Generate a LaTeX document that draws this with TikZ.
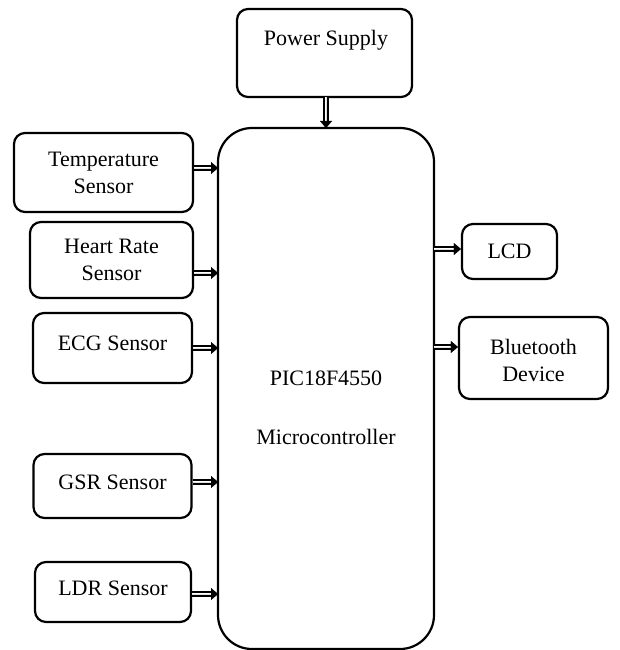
\documentclass[tikz,border=0pt]{standalone}
\usepackage{fontspec}
\setmainfont{Liberation Serif}
\usetikzlibrary{arrows.meta}
\begin{document}
\begin{tikzpicture}[x=1pt,y=-1pt,
  blk/.style={draw,line width=2.2pt,rounded corners=11pt},
  lbl/.style={font=\fontsize{22}{27}\selectfont,align=center,inner sep=0pt},
  dar/.style={double,double distance=2.8pt,line width=1.3pt,shorten >=6pt},
  dhead/.style={line width=0.01pt,-{Triangle[length=7pt,width=12pt]}}]
\useasboundingbox (0,0) rectangle (619,650);
\node[blk,minimum width=175pt,minimum height=88pt] (ps) at (324.5,53) {};
\node[lbl] at (326,40) {Power Supply};
\node[blk,rounded corners=34pt,minimum width=216pt,minimum height=521pt] (mc) at (326,388.5) {};
\node[lbl] at (326,378) {PIC18F4550};
\node[lbl] at (326,437) {Microcontroller};
\node[blk,minimum width=179pt,minimum height=79pt] (ts) at (103.5,172.5) {};
\node[lbl] at (ts) {Temperature\\Sensor};
\node[blk,minimum width=163pt,minimum height=76pt] (hr) at (111.5,260) {};
\node[lbl] at (hr) {Heart Rate\\Sensor};
\node[blk,minimum width=159pt,minimum height=70pt] (ecg) at (112.5,348) {};
\node[lbl] at (112.5,343) {ECG Sensor};
\node[blk,minimum width=158pt,minimum height=64pt] (gsr) at (112.5,486) {};
\node[lbl] at (112.5,482) {GSR Sensor};
\node[blk,minimum width=156pt,minimum height=60pt] (ldr) at (113,592) {};
\node[lbl] at (113,588) {LDR Sensor};
\node[blk,minimum width=95pt,minimum height=55pt] (lcd) at (509.5,251.5) {};
\node[lbl] at (lcd) {LCD};
\node[blk,minimum width=149pt,minimum height=82pt] (bt) at (533.5,358) {};
\node[lbl] at (533.5,360) {Bluetooth\\Device};
\coordinate (pst) at (326,97);
\coordinate (mct) at (326,128);
\draw[dar] (pst) -- (mct); \draw[dhead] (pst) -- (mct);
\coordinate (t1) at (218,168); \draw[dar] (ts.east |- t1) -- (t1); \draw[dhead] (ts.east |- t1) -- (t1);
\coordinate (t2) at (218,273); \draw[dar] (hr.east |- t2) -- (t2); \draw[dhead] (hr.east |- t2) -- (t2);
\coordinate (t3) at (218,348); \draw[dar] (ecg.east |- t3) -- (t3); \draw[dhead] (ecg.east |- t3) -- (t3);
\coordinate (t4) at (218,482); \draw[dar] (gsr.east |- t4) -- (t4); \draw[dhead] (gsr.east |- t4) -- (t4);
\coordinate (t5) at (218,594); \draw[dar] (ldr.east |- t5) -- (t5); \draw[dhead] (ldr.east |- t5) -- (t5);
\coordinate (o1) at (434,249); \draw[dar] (o1) -- (lcd.west |- o1); \draw[dhead] (o1) -- (lcd.west |- o1);
\coordinate (o2) at (434,347); \draw[dar] (o2) -- (bt.west |- o2); \draw[dhead] (o2) -- (bt.west |- o2);
\end{tikzpicture}
\end{document}
